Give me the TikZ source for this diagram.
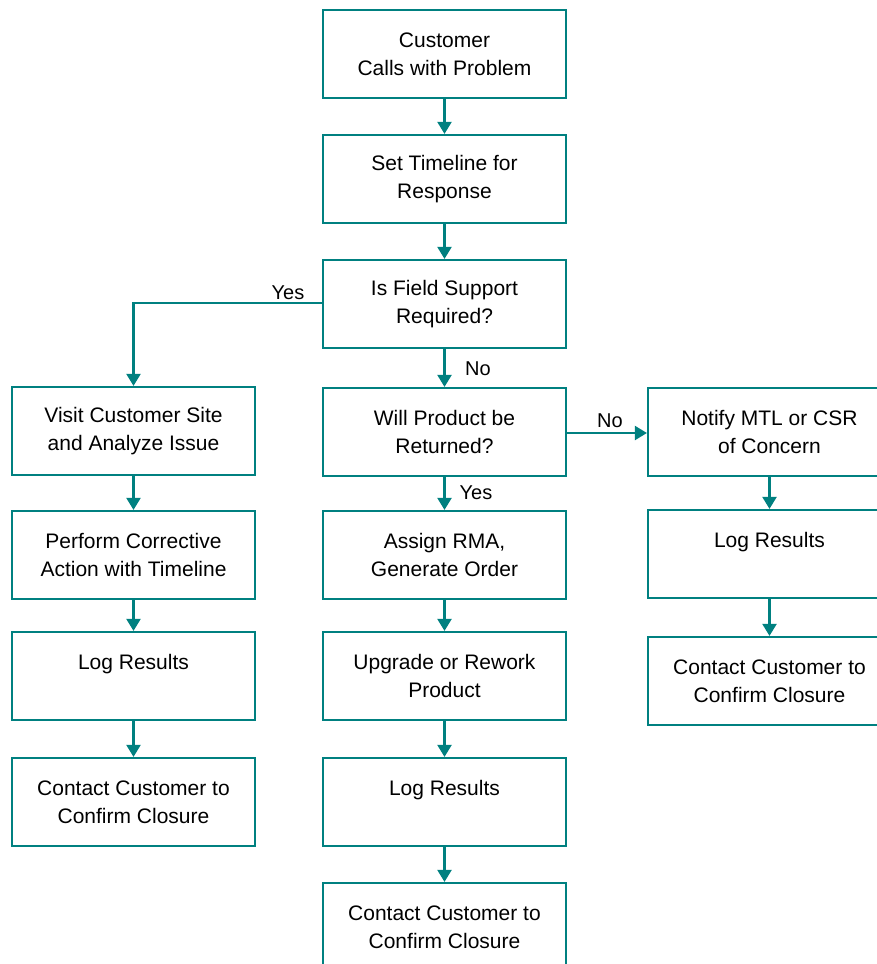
\documentclass[tikz,border=0pt]{standalone}
\usepackage{fontspec}
\setmainfont{Liberation Sans}
\usetikzlibrary{arrows.meta}
\definecolor{teal1}{HTML}{008080}
\begin{document}
\begin{tikzpicture}[x=1pt,y=-1pt,
  flowbox/.style={draw=teal1, line width=2.2pt, rectangle, minimum width=243pt, minimum height=88pt,
    align=center, inner sep=0pt, font=\fontsize{21}{28}\selectfont},
  flowarrow/.style={draw=teal1, line width=2.2pt, -{Triangle[width=14pt,length=12pt]}},
  lbl/.style={font=\fontsize{20}{24}\selectfont, inner sep=0pt}]
\useasboundingbox (0,0) rectangle (877,964);
\clip (0,0) rectangle (877,964);
% middle column
\node[flowbox] (m1) at (444.5,54) {Customer\\Calls with Problem};
\node[flowbox] (m2) at (444.5,179) {Set Timeline for\\Response};
\node[flowbox] (m3) at (444.5,304) {Is Field Support\\Required?};
\node[flowbox] (m4) at (444.5,432) {Will Product be\\Returned?};
\node[flowbox] (m5) at (444.5,555) {Assign RMA,\\Generate Order};
\node[flowbox] (m6) at (444.5,676) {Upgrade or Rework\\Product};
\node[flowbox] (m7) at (444.5,802) {Log Results\\\mbox{}};
\node[flowbox] (m8) at (444.5,927) {Contact Customer to\\Confirm Closure};
% left column
\node[flowbox] (l1) at (133.5,431) {Visit Customer Site\\and Analyze Issue};
\node[flowbox] (l2) at (133.5,555) {Perform Corrective\\Action with Timeline};
\node[flowbox] (l3) at (133.5,676) {Log Results\\\mbox{}};
\node[flowbox] (l4) at (133.5,802) {Contact Customer to\\Confirm Closure};
% right column
\node[flowbox] (r1) at (769.5,432) {Notify MTL or CSR\\of Concern};
\node[flowbox] (r2) at (769.5,554) {Log Results\\\mbox{}};
\node[flowbox] (r3) at (769.5,681) {Contact Customer to\\Confirm Closure};
% arrows
\draw[flowarrow] (m1) -- (m2);
\draw[flowarrow] (m2) -- (m3);
\draw[flowarrow] (m3) -- (m4);
\draw[flowarrow] (m4) -- (m5);
\draw[flowarrow] (m5) -- (m6);
\draw[flowarrow] (m6) -- (m7);
\draw[flowarrow] (m7) -- (m8);
\draw[flowarrow] (l1) -- (l2);
\draw[flowarrow] (l2) -- (l3);
\draw[flowarrow] (l3) -- (l4);
\draw[flowarrow] (r1) -- (r2);
\draw[flowarrow] (r2) -- (r3);
\coordinate (yb) at (133.5,303);
\draw[flowarrow] (m3.west |- yb) -- (yb) -- (l1.north);
\draw[flowarrow] (m4.east |- 0,433) -- (r1.west |- 0,433);
% labels
\node[lbl] (tyes1) at (288,293) {Yes};
\node[lbl] (tno1) at (478,369) {No};
\node[lbl] (tyes2) at (476,493) {Yes};
\node[lbl] (tno2) at (610,421) {No};
\end{tikzpicture}
\end{document}
